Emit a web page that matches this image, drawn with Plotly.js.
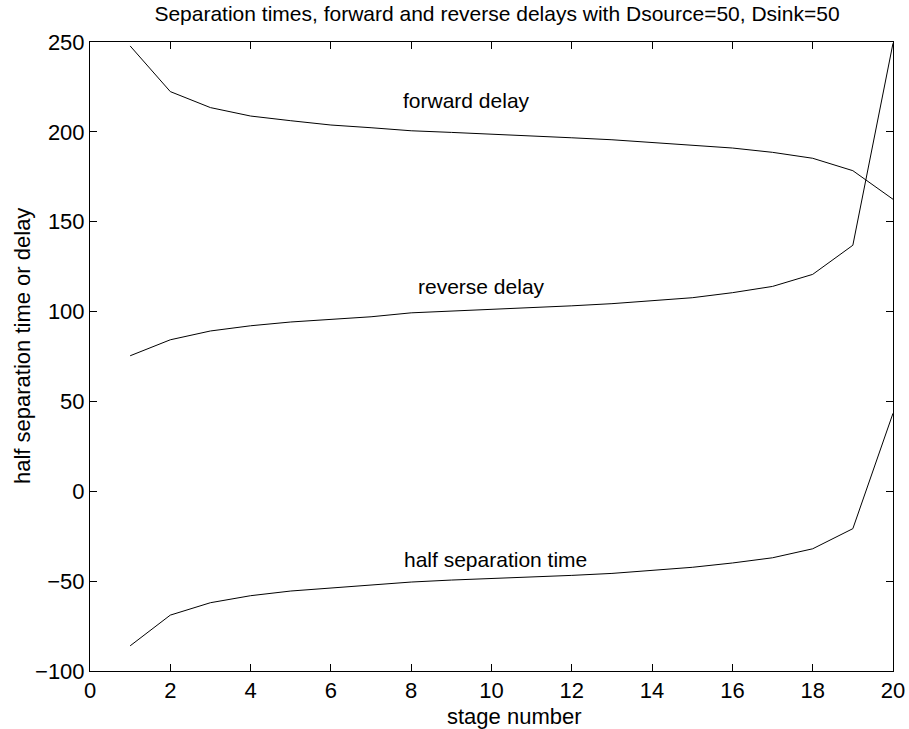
<!DOCTYPE html>
<html>
<head>
<meta charset="utf-8">
<script src="https://cdn.plot.ly/plotly-3.0.1.min.js"></script>
<style>html,body{margin:0;padding:0;background:#fff;}#chart{width:909px;height:729px;}</style>
</head>
<body>
<div id="chart"></div>
<script>
const stages = [1,2,3,4,5,6,7,8,9,10,11,12,13,14,15,16,17,18,19,20];
const forwardDelay = [247.8,222.4,213.5,208.8,206.2,203.8,202.3,200.6,199.7,198.8,197.8,196.7,195.6,194.0,192.7,191.0,188.6,185.3,178.4,162.5];
const reverseDelay = [75.4,84.3,89.2,92.1,94.2,95.7,97.1,99.3,100.2,101.1,102.1,103.2,104.4,106.0,107.7,110.5,114.0,120.7,136.9,249.3];
const halfSeparation = [-86.0,-68.9,-62.0,-58.1,-55.5,-53.7,-52.2,-50.5,-49.4,-48.6,-47.8,-46.8,-45.7,-43.8,-42.3,-39.9,-37.0,-32.0,-20.8,43.4];
const xTicks = [0,2,4,6,8,10,12,14,16,18,20];
const yTicks = [-100,-50,0,50,100,150,200,250];
const labels = [
  {text:'forward delay', x:7.75, y:217.7},
  {text:'reverse delay', x:8.12, y:113.8},
  {text:'half separation time', x:7.76, y:-37.9}
];
const FONT = 'Liberation Sans, Arial, Helvetica, sans-serif';
const line = {color:'#000', width:1};
const traces = [
  {x:stages, y:forwardDelay, mode:'lines', line:line, name:'forward delay'},
  {x:stages, y:reverseDelay, mode:'lines', line:line, name:'reverse delay'},
  {x:stages, y:halfSeparation, mode:'lines', line:line, name:'half separation time'}
];
const axisBase = {
  showgrid:false, zeroline:false, showline:true, linecolor:'#000', linewidth:1,
  mirror:'ticks', ticks:'inside', ticklen:7, tickcolor:'#000', tickwidth:1,
  tickfont:{family:FONT, size:22, color:'#000'}
};
const textFont = {family:FONT, size:22, color:'#000'};
const annotations = labels.map(l => ({x:l.x, y:l.y, xref:'x', yref:'y', text:l.text, showarrow:false,
    xanchor:'left', yanchor:'middle', font:{family:FONT, size:21, color:'#000'}}));
annotations.push({xref:'paper', yref:'paper', x:(514-90)/803, y:-(716-671)/629, text:'stage number',
  showarrow:false, xanchor:'center', yanchor:'middle', font:textFont});
annotations.push({xref:'paper', yref:'paper', x:-(90-22)/803, y:(671-346)/629, text:'half separation time or delay',
  showarrow:false, xanchor:'center', yanchor:'middle', textangle:-90, font:textFont});
const layout = {
  width:909, height:729,
  margin:{l:90, r:16, t:42, b:58},
  paper_bgcolor:'#fff', plot_bgcolor:'#fff',
  showlegend:false,
  font:{family:FONT, size:21, color:'#000'},
  title:{text:'Separation times, forward and reverse delays with Dsource=50, Dsink=50',
    font:{family:FONT, size:21, color:'#000'}, x:497/909, xanchor:'center', y:1-14/729, yanchor:'middle'},
  xaxis:Object.assign({}, axisBase, {range:[0,20], tickvals:xTicks, ticktext:xTicks.map(String)}),
  yaxis:Object.assign({}, axisBase, {range:[-100,250], tickvals:yTicks}),
  annotations: annotations
};
Plotly.newPlot('chart', traces, layout, {displayModeBar:false, staticPlot:true});
</script>
</body>
</html>
